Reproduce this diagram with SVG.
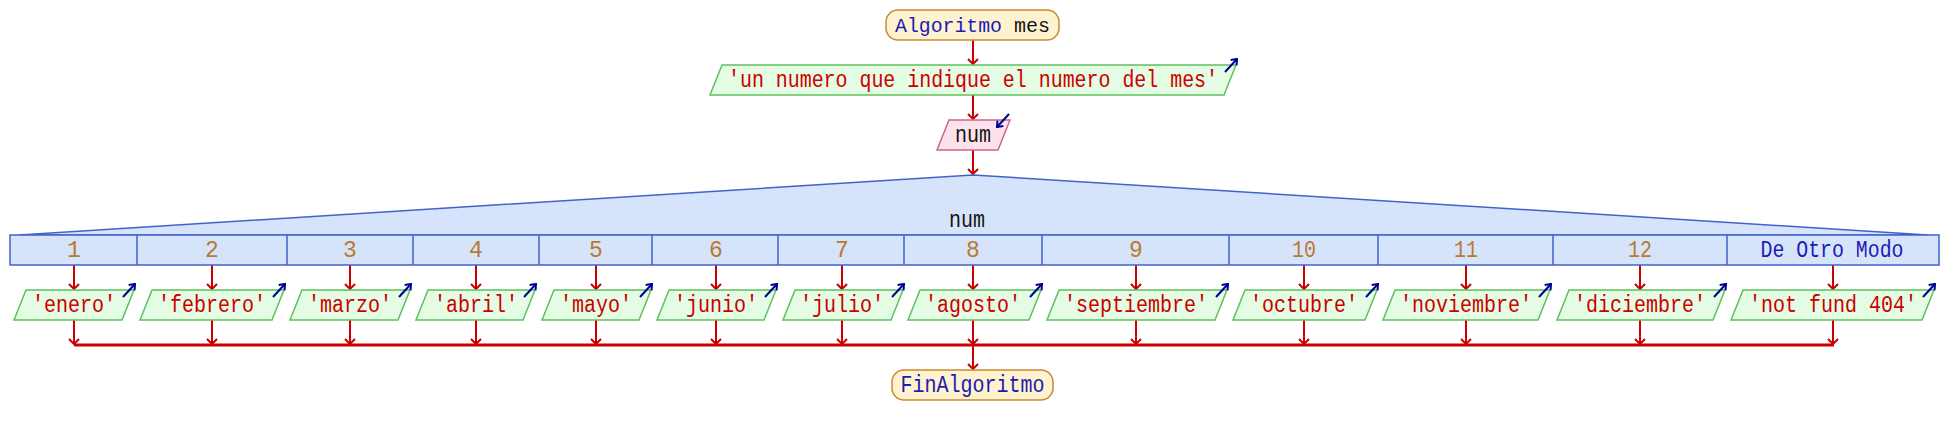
<svg xmlns="http://www.w3.org/2000/svg" width="1946" height="435" viewBox="0 0 1946 435">
<defs>
<style>
.t{font-family:"Liberation Mono","Courier New",monospace;font-size:23px;text-anchor:middle}
.str{fill:#cc0000}
.kw{fill:#1c1cb4}
.var{fill:#141414}
.lbl{fill:#b87a30}
.cn{stroke:#cc0000;stroke-width:2;fill:none}
.col{stroke:#cc0000;stroke-width:3;fill:none}
.term{fill:#fff2cf;stroke:#c88a30;stroke-width:1.5}
.out{fill:#e4fce4;stroke:#5cc05c;stroke-width:1.5}
.in{fill:#fde2ee;stroke:#cc6690;stroke-width:1.5}
.sw{fill:#d6e4fb;stroke:#4262c8;stroke-width:1.5}
.ic{stroke:#000090;stroke-width:2;fill:none}
</style>
<marker id="ah" viewBox="0 0 10 12" refX="9" refY="6" markerWidth="10" markerHeight="12" markerUnits="userSpaceOnUse" orient="auto">
<path d="M4,1 L9,6 L4,11" fill="none" stroke="#cc0000" stroke-width="2"/>
</marker>
<marker id="ih" viewBox="0 0 10 10" refX="9" refY="5" markerWidth="10" markerHeight="10" markerUnits="userSpaceOnUse" orient="auto">
<path d="M4,1 L9,5 L4,9" fill="none" stroke="#000090" stroke-width="2"/>
</marker>
</defs>
<rect width="1946" height="435" fill="#ffffff"/>

<g id="connectors">
<line class="cn" x1="973" y1="40" x2="973" y2="64" marker-end="url(#ah)"/>
<line class="cn" x1="973" y1="95" x2="973" y2="119" marker-end="url(#ah)"/>
<line class="cn" x1="973" y1="150" x2="973" y2="174" marker-end="url(#ah)"/>
<line class="cn" x1="74" y1="265" x2="74" y2="289" marker-end="url(#ah)"/>
<line class="cn" x1="212" y1="265" x2="212" y2="289" marker-end="url(#ah)"/>
<line class="cn" x1="350" y1="265" x2="350" y2="289" marker-end="url(#ah)"/>
<line class="cn" x1="476" y1="265" x2="476" y2="289" marker-end="url(#ah)"/>
<line class="cn" x1="596" y1="265" x2="596" y2="289" marker-end="url(#ah)"/>
<line class="cn" x1="716" y1="265" x2="716" y2="289" marker-end="url(#ah)"/>
<line class="cn" x1="842" y1="265" x2="842" y2="289" marker-end="url(#ah)"/>
<line class="cn" x1="973" y1="265" x2="973" y2="289" marker-end="url(#ah)"/>
<line class="cn" x1="1136" y1="265" x2="1136" y2="289" marker-end="url(#ah)"/>
<line class="cn" x1="1304" y1="265" x2="1304" y2="289" marker-end="url(#ah)"/>
<line class="cn" x1="1466" y1="265" x2="1466" y2="289" marker-end="url(#ah)"/>
<line class="cn" x1="1640" y1="265" x2="1640" y2="289" marker-end="url(#ah)"/>
<line class="cn" x1="1833" y1="265" x2="1833" y2="289" marker-end="url(#ah)"/>
<line class="cn" x1="74" y1="320" x2="74" y2="344" marker-end="url(#ah)"/>
<line class="cn" x1="212" y1="320" x2="212" y2="344" marker-end="url(#ah)"/>
<line class="cn" x1="350" y1="320" x2="350" y2="344" marker-end="url(#ah)"/>
<line class="cn" x1="476" y1="320" x2="476" y2="344" marker-end="url(#ah)"/>
<line class="cn" x1="596" y1="320" x2="596" y2="344" marker-end="url(#ah)"/>
<line class="cn" x1="716" y1="320" x2="716" y2="344" marker-end="url(#ah)"/>
<line class="cn" x1="842" y1="320" x2="842" y2="344" marker-end="url(#ah)"/>
<line class="cn" x1="973" y1="320" x2="973" y2="344" marker-end="url(#ah)"/>
<line class="cn" x1="1136" y1="320" x2="1136" y2="344" marker-end="url(#ah)"/>
<line class="cn" x1="1304" y1="320" x2="1304" y2="344" marker-end="url(#ah)"/>
<line class="cn" x1="1466" y1="320" x2="1466" y2="344" marker-end="url(#ah)"/>
<line class="cn" x1="1640" y1="320" x2="1640" y2="344" marker-end="url(#ah)"/>
<line class="cn" x1="1833" y1="320" x2="1833" y2="344" marker-end="url(#ah)"/>
<line class="col" x1="74" y1="345" x2="1834" y2="345"/>
<line class="cn" x1="973" y1="345" x2="973" y2="369" marker-end="url(#ah)"/>
</g>

<g id="inicio">
<rect class="term" x="886" y="10" width="173" height="30" rx="12"/>
<text class="t kw" x="948.5" y="32" style="font-size:21px" textLength="107" lengthAdjust="spacingAndGlyphs">Algoritmo</text>
<text class="t var" x="1032" y="32" style="font-size:21px" textLength="36" lengthAdjust="spacingAndGlyphs">mes</text>
</g>

<g id="escribir">
<polygon class="out" points="722,65 1236,65 1224,95 710,95"/>
<text class="t str" x="973" y="87" textLength="490" lengthAdjust="spacingAndGlyphs">'un numero que indique el numero del mes'</text>
<line class="ic" x1="1225" y1="72" x2="1237" y2="59" marker-end="url(#ih)"/>
</g>

<g id="leer">
<polygon class="in" points="949,120 1010,120 998,150 937,150"/>
<text class="t var" x="973" y="142" textLength="36" lengthAdjust="spacingAndGlyphs">num</text>
<line class="ic" x1="1009" y1="114" x2="997" y2="127" marker-end="url(#ih)"/>
</g>

<g id="segun">
<polygon class="sw" points="19,235 973,175 1928,235"/>
<rect class="sw" x="10" y="235" width="1929" height="30"/>
<g stroke="#4262c8" stroke-width="1.5">
<line x1="137" y1="235" x2="137" y2="265"/>
<line x1="287" y1="235" x2="287" y2="265"/>
<line x1="413" y1="235" x2="413" y2="265"/>
<line x1="539" y1="235" x2="539" y2="265"/>
<line x1="652" y1="235" x2="652" y2="265"/>
<line x1="778" y1="235" x2="778" y2="265"/>
<line x1="904" y1="235" x2="904" y2="265"/>
<line x1="1042" y1="235" x2="1042" y2="265"/>
<line x1="1229" y1="235" x2="1229" y2="265"/>
<line x1="1378" y1="235" x2="1378" y2="265"/>
<line x1="1553" y1="235" x2="1553" y2="265"/>
<line x1="1727" y1="235" x2="1727" y2="265"/>
</g>
<text class="t var" x="967" y="227" textLength="36" lengthAdjust="spacingAndGlyphs">num</text>
<text class="t lbl" x="74" y="257">1</text>
<text class="t lbl" x="212" y="257">2</text>
<text class="t lbl" x="350" y="257">3</text>
<text class="t lbl" x="476" y="257">4</text>
<text class="t lbl" x="596" y="257">5</text>
<text class="t lbl" x="716" y="257">6</text>
<text class="t lbl" x="842" y="257">7</text>
<text class="t lbl" x="973" y="257">8</text>
<text class="t lbl" x="1136" y="257">9</text>
<text class="t lbl" x="1304" y="257" textLength="24" lengthAdjust="spacingAndGlyphs">10</text>
<text class="t lbl" x="1466" y="257" textLength="24" lengthAdjust="spacingAndGlyphs">11</text>
<text class="t lbl" x="1640" y="257" textLength="24" lengthAdjust="spacingAndGlyphs">12</text>
<text class="t kw" x="1832" y="257" textLength="143" lengthAdjust="spacingAndGlyphs">De Otro Modo</text>
</g>

<g id="caso1">
<polygon class="out" points="26,290 134,290 122,320 14,320"/>
<text class="t str" x="74" y="312" textLength="84" lengthAdjust="spacingAndGlyphs">'enero'</text>
<line class="ic" x1="123" y1="297" x2="135" y2="284" marker-end="url(#ih)"/>
</g>
<g id="caso2">
<polygon class="out" points="152,290 284,290 272,320 140,320"/>
<text class="t str" x="212" y="312" textLength="108" lengthAdjust="spacingAndGlyphs">'febrero'</text>
<line class="ic" x1="273" y1="297" x2="285" y2="284" marker-end="url(#ih)"/>
</g>
<g id="caso3">
<polygon class="out" points="302,290 410,290 398,320 290,320"/>
<text class="t str" x="350" y="312" textLength="84" lengthAdjust="spacingAndGlyphs">'marzo'</text>
<line class="ic" x1="399" y1="297" x2="411" y2="284" marker-end="url(#ih)"/>
</g>
<g id="caso4">
<polygon class="out" points="428,290 535,290 523,320 416,320"/>
<text class="t str" x="476" y="312" textLength="84" lengthAdjust="spacingAndGlyphs">'abril'</text>
<line class="ic" x1="524" y1="297" x2="536" y2="284" marker-end="url(#ih)"/>
</g>
<g id="caso5">
<polygon class="out" points="554,290 651,290 639,320 542,320"/>
<text class="t str" x="596" y="312" textLength="72" lengthAdjust="spacingAndGlyphs">'mayo'</text>
<line class="ic" x1="640" y1="297" x2="652" y2="284" marker-end="url(#ih)"/>
</g>
<g id="caso6">
<polygon class="out" points="669,290 776,290 764,320 657,320"/>
<text class="t str" x="716" y="312" textLength="84" lengthAdjust="spacingAndGlyphs">'junio'</text>
<line class="ic" x1="765" y1="297" x2="777" y2="284" marker-end="url(#ih)"/>
</g>
<g id="caso7">
<polygon class="out" points="795,290 903,290 891,320 783,320"/>
<text class="t str" x="842" y="312" textLength="84" lengthAdjust="spacingAndGlyphs">'julio'</text>
<line class="ic" x1="892" y1="297" x2="904" y2="284" marker-end="url(#ih)"/>
</g>
<g id="caso8">
<polygon class="out" points="920,290 1041,290 1029,320 908,320"/>
<text class="t str" x="973" y="312" textLength="96" lengthAdjust="spacingAndGlyphs">'agosto'</text>
<line class="ic" x1="1030" y1="297" x2="1042" y2="284" marker-end="url(#ih)"/>
</g>
<g id="caso9">
<polygon class="out" points="1059,290 1227,290 1215,320 1047,320"/>
<text class="t str" x="1136" y="312" textLength="144" lengthAdjust="spacingAndGlyphs">'septiembre'</text>
<line class="ic" x1="1216" y1="297" x2="1228" y2="284" marker-end="url(#ih)"/>
</g>
<g id="caso10">
<polygon class="out" points="1245,290 1377,290 1365,320 1233,320"/>
<text class="t str" x="1304" y="312" textLength="108" lengthAdjust="spacingAndGlyphs">'octubre'</text>
<line class="ic" x1="1366" y1="297" x2="1378" y2="284" marker-end="url(#ih)"/>
</g>
<g id="caso11">
<polygon class="out" points="1395,290 1550,290 1538,320 1383,320"/>
<text class="t str" x="1466" y="312" textLength="132" lengthAdjust="spacingAndGlyphs">'noviembre'</text>
<line class="ic" x1="1539" y1="297" x2="1551" y2="284" marker-end="url(#ih)"/>
</g>
<g id="caso12">
<polygon class="out" points="1569,290 1725,290 1713,320 1557,320"/>
<text class="t str" x="1640" y="312" textLength="132" lengthAdjust="spacingAndGlyphs">'diciembre'</text>
<line class="ic" x1="1714" y1="297" x2="1726" y2="284" marker-end="url(#ih)"/>
</g>
<g id="otro">
<polygon class="out" points="1743,290 1934,290 1922,320 1731,320"/>
<text class="t str" x="1833" y="312" textLength="168" lengthAdjust="spacingAndGlyphs">'not fund 404'</text>
<line class="ic" x1="1923" y1="297" x2="1935" y2="284" marker-end="url(#ih)"/>
</g>

<g id="fin">
<rect class="term" x="892" y="370" width="161" height="30" rx="12"/>
<text class="t kw" x="972.5" y="392" textLength="144" lengthAdjust="spacingAndGlyphs">FinAlgoritmo</text>
</g>
</svg>
